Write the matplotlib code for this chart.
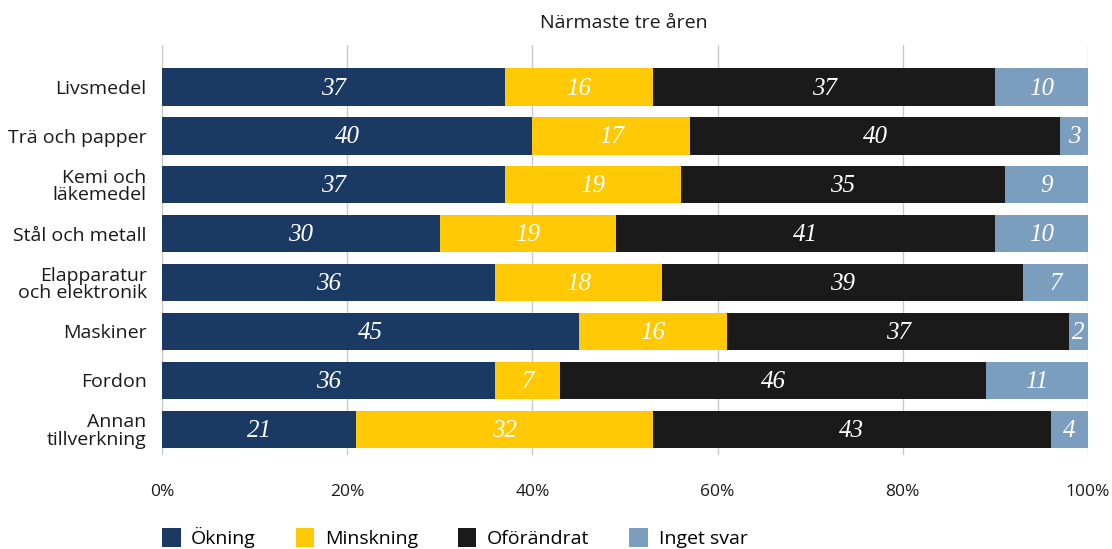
import numpy as np
import matplotlib.pyplot as plt
from matplotlib.patches import Patch

categories = ['Livsmedel', 'Trä och papper', 'Kemi och\nläkemedel', 'Stål och metall',
              'Elapparatur\noch elektronik', 'Maskiner', 'Fordon', 'Annan\ntillverkning']
okning = [37, 40, 37, 30, 36, 45, 36, 21]
minskning = [16, 17, 19, 19, 18, 16, 7, 32]
oforandrat = [37, 40, 35, 41, 39, 37, 46, 43]
inget_svar = [10, 3, 9, 10, 7, 2, 11, 4]
series_names = ['Ökning', 'Minskning', 'Oförändrat', 'Inget svar']
colors = ['#1b3a63', '#ffc905', '#1a1a1a', '#7b9ebf']

plt.rcParams['font.family'] = ['Open Sans', 'DejaVu Sans']

fig = plt.figure(figsize=(11.12, 5.49), dpi=100)
ax = fig.add_axes([0.1457, 0.171, 0.8327, 0.747])

y = np.arange(len(categories))
left = np.zeros(len(categories))
for vals, col in zip([okning, minskning, oforandrat, inget_svar], colors):
    vals = np.array(vals)
    ax.barh(y, vals, left=left, height=0.76, color=col, zorder=3)
    for yi, l, v in zip(y, left, vals):
        ax.text(l + v / 2, yi + 0.03, str(v), ha='center', va='center', color='white',
                fontsize=18, family='Liberation Serif', style='italic', zorder=4)
    left += vals

ax.set_xlim(0, 100)
ax.set_ylim(len(categories) - 1 + 0.53, -0.86)
ax.set_xticks(np.arange(0, 101, 20))
ax.set_xticklabels([f'{t}%' for t in range(0, 101, 20)], fontsize=12.5)
ax.set_yticks(y)
ax.set_yticklabels(categories, fontsize=14, linespacing=0.95)
ax.tick_params(axis='both', length=0, colors='#1a1a1a')
ax.tick_params(axis='x', pad=21)
ax.tick_params(axis='y', pad=11)
ax.grid(axis='x', color='#c8c8c8', linewidth=1, zorder=0)
for s in ax.spines.values():
    s.set_visible(False)

fig.text(0.5607, 0.958, 'Närmaste tre åren', ha='center', va='center', fontsize=14, color='#1a1a1a')

handles = [Patch(facecolor=c) for c in colors]
fig.legend(handles, series_names, loc='lower left', bbox_to_anchor=(0.13, -0.03), ncol=4,
           frameon=False, fontsize=14, handlelength=0.95, handleheight=1.15,
           handletextpad=0.55, columnspacing=2.05)

fig.savefig('out.png', dpi=100)
